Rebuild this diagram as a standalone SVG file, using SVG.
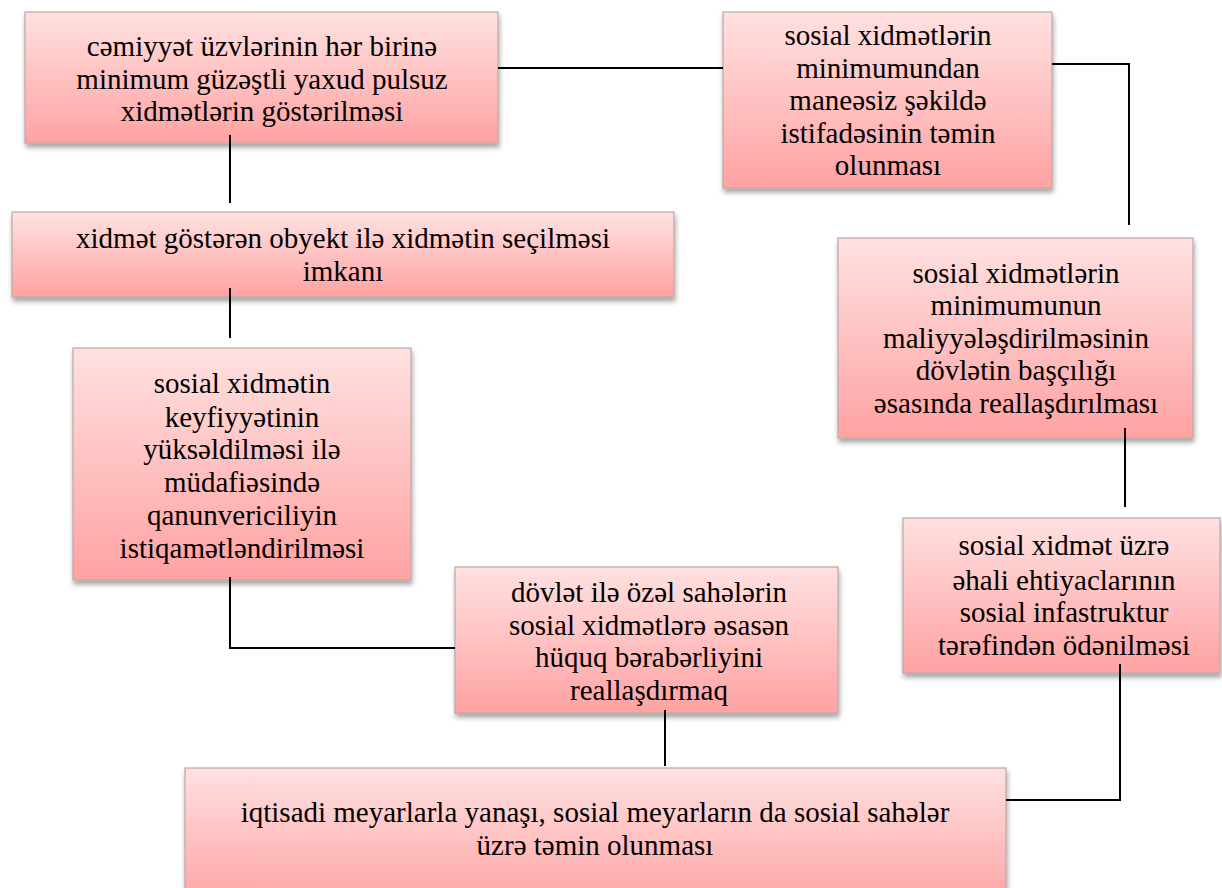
<svg xmlns="http://www.w3.org/2000/svg" width="1222" height="888" viewBox="0 0 1222 888">
<defs>
<linearGradient id="g" x1="0" y1="0" x2="0" y2="1">
<stop offset="0" stop-color="#FFE1E1"/>
<stop offset="1" stop-color="#FFA2A2"/>
</linearGradient>
<filter id="sh" x="-5%" y="-5%" width="112%" height="120%">
<feDropShadow dx="1" dy="4" stdDeviation="2.5" flood-color="#000" flood-opacity="0.35"/>
</filter>
</defs>
<style>
.box{fill:url(#g);stroke:#BFA5A5;stroke-width:1.2;filter:url(#sh)}
.t{font-family:'Liberation Serif','Times New Roman',serif;font-size:29px;fill:#000;text-anchor:middle}
.c{fill:none;stroke:#000;stroke-width:2}
</style>
<rect width="1222" height="888" fill="#fff"/>
<g id="nodeA">
<rect class="box" x="25" y="12" width="473" height="131"/>
<text class="t" x="262" y="56">cəmiyyət üzvlərinin hər birinə</text>
<text class="t" x="262" y="89">minimum güzəştli yaxud pulsuz</text>
<text class="t" x="262" y="121">xidmətlərin göstərilməsi</text>
</g>
<g id="nodeB">
<rect class="box" x="723" y="12" width="329" height="176"/>
<text class="t" x="888" y="45">sosial xidmətlərin</text>
<text class="t" x="888" y="78">minimumundan</text>
<text class="t" x="888" y="110">maneəsiz şəkildə</text>
<text class="t" x="888" y="143">istifadəsinin təmin</text>
<text class="t" x="888" y="175">olunması</text>
</g>
<g id="nodeC">
<rect class="box" x="12" y="212" width="662" height="85"/>
<text class="t" x="343" y="248">xidmət göstərən obyekt ilə xidmətin seçilməsi</text>
<text class="t" x="343" y="281">imkanı</text>
</g>
<g id="nodeD">
<rect class="box" x="838" y="238" width="355" height="200"/>
<text class="t" x="1016" y="283">sosial xidmətlərin</text>
<text class="t" x="1016" y="315">minimumunun</text>
<text class="t" x="1016" y="348">maliyyələşdirilməsinin</text>
<text class="t" x="1016" y="380">dövlətin başçılığı</text>
<text class="t" x="1016" y="413">əsasında reallaşdırılması</text>
</g>
<g id="nodeE">
<rect class="box" x="73" y="348" width="338" height="232"/>
<text class="t" x="242" y="393">sosial xidmətin</text>
<text class="t" x="242" y="427">keyfiyyətinin</text>
<text class="t" x="242" y="459">yüksəldilməsi ilə</text>
<text class="t" x="242" y="492">müdafiəsində</text>
<text class="t" x="242" y="525">qanunvericiliyin</text>
<text class="t" x="242" y="558">istiqamətləndirilməsi</text>
</g>
<g id="nodeF">
<rect class="box" x="455" y="567" width="383" height="146"/>
<text class="t" x="649" y="602">dövlət ilə özəl sahələrin</text>
<text class="t" x="649" y="635">sosial xidmətlərə əsasən</text>
<text class="t" x="649" y="667">hüquq bərabərliyini</text>
<text class="t" x="649" y="700">reallaşdırmaq</text>
</g>
<g id="nodeG">
<rect class="box" x="903" y="518" width="317" height="155"/>
<text class="t" x="1064" y="555">sosial xidmət üzrə</text>
<text class="t" x="1064" y="590">əhali ehtiyaclarının</text>
<text class="t" x="1064" y="622">sosial infastruktur</text>
<text class="t" x="1064" y="655">tərəfindən ödənilməsi</text>
</g>
<g id="nodeH">
<rect class="box" x="185" y="768" width="821" height="140"/>
<text class="t" x="595" y="822">iqtisadi meyarlarla yanaşı, sosial meyarların da sosial sahələr</text>
<text class="t" x="595" y="855">üzrə təmin olunması</text>
</g>
<g id="connectors">
<path class="c" d="M498 68 H723"/>
<path class="c" d="M1052 64 H1129 V225"/>
<path class="c" d="M230 135 V203"/>
<path class="c" d="M230 288 V338"/>
<path class="c" d="M230 577 V648 H455"/>
<path class="c" d="M665 710 V766"/>
<path class="c" d="M1125 428 V507"/>
<path class="c" d="M1120 664 V800 H1006"/>
</g>
</svg>
